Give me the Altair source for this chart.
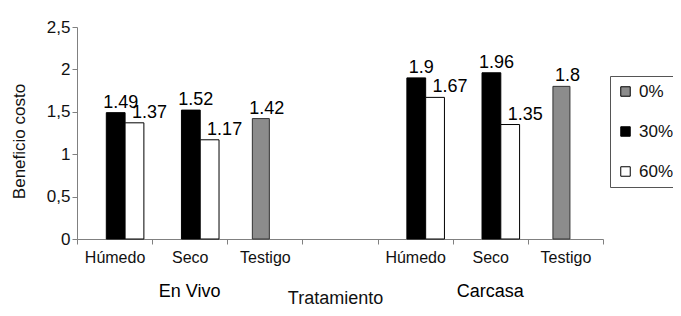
import altair as alt
import pandas as pd

grupos = ["En Vivo", "Carcasa"]
tratamientos = ["Húmedo", "Seco", "Testigo"]
series = ["0%", "30%", "60%"]
colores = ["#8c8c8c", "#000000", "#ffffff"]
v0 = [None, None, 1.42, None, None, 1.8]
v30 = [1.49, 1.52, None, 1.9, 1.96, None]
v60 = [1.37, 1.17, None, 1.67, 1.35, None]
y_ticks = [0, 0.5, 1, 1.5, 2, 2.5]

slots = [f"{g}|{t}" for g in grupos for t in tratamientos]
x_domain = slots[:3] + ["|"] + slots[3:]

rows = []
for i, slot in enumerate(slots):
    for s, vals in zip(series, [v0, v30, v60]):
        if vals[i] is not None:
            rows.append({"slot": slot, "serie": s, "valor": vals[i],
                         "txt": str(vals[i])})
df = pd.DataFrame(rows)
df_grp = pd.DataFrame({"slot": [f"{g}|Seco" for g in grupos], "grupo": grupos})

FONT = "Liberation Sans"

x_enc = alt.X(
    "slot:N",
    scale=alt.Scale(domain=x_domain, paddingInner=0, paddingOuter=0),
    axis=alt.Axis(
        title="Tratamiento",
        labelExpr="split(datum.value, '|')[1]",
        tickBand="extent",
        labelAngle=0,
        labelFontSize=16,
        labelPadding=5,
        tickSize=5,
        titleFontSize=18,
        titleBaseline="alphabetic",
        titleY=64,
        titleX=258,
        titleFontWeight="normal",
    ),
)
y_enc = alt.Y(
    "valor:Q",
    scale=alt.Scale(domain=[0, 2.5], nice=False),
    axis=alt.Axis(
        title="Beneficio costo",
        values=y_ticks,
        labelExpr="replace(toString(datum.value), '.', ',')",
        grid=False,
        tickSize=5,
        labelPadding=2,
        labelFontSize=17,
        titleFontSize=17,
        titleFontWeight="normal",
        titlePadding=18,
        titleY=114,
    ),
)
xoff = alt.XOffset(
    "serie:N",
    scale=alt.Scale(domain=["30%", "60%"], paddingInner=0, paddingOuter=1, align=0.78),
)
color = alt.Color(
    "serie:N",
    scale=alt.Scale(domain=series, range=colores),
    legend=alt.Legend(
        title=None, orient="none", legendX=533, legendY=49,
        symbolType="square", symbolSize=90, symbolStrokeColor="black",
        symbolStrokeWidth=1, labelFontSize=17, rowPadding=22, padding=7,
        strokeColor="#555555", fillColor="white", labelOffset=5,
    ),
)

base = alt.Chart(df)
bars_pair = base.transform_filter(alt.FieldOneOfPredicate(field="serie", oneOf=["30%", "60%"])).mark_bar(
    stroke="black", strokeWidth=1
).encode(x=x_enc, y=y_enc, xOffset=xoff, color=color)
bars_gray = base.transform_filter(alt.datum.serie == "0%").mark_bar(
    stroke="#333333", strokeWidth=1, width=17, xOffset=-4
).encode(x=x_enc, y=y_enc, color=color)

txt_kw = dict(fontSize=18, baseline="alphabetic", dy=-5, color="black")
t30 = base.transform_filter(alt.datum.serie == "30%").mark_text(dx=5, **txt_kw).encode(
    x=x_enc, y=y_enc, xOffset=xoff, text="txt:N")
t60 = base.transform_filter(alt.datum.serie == "60%").mark_text(dx=15, **txt_kw).encode(
    x=x_enc, y=y_enc, xOffset=xoff, text="txt:N")
t0 = base.transform_filter(alt.datum.serie == "0%").mark_text(dx=2, **txt_kw).encode(
    x=x_enc, y=y_enc, text="txt:N")

grp = alt.Chart(df_grp).mark_text(fontSize=18, baseline="alphabetic", color="black").encode(
    x=x_enc, y=alt.value(270), text="grupo:N")

chart = alt.layer(bars_pair, bars_gray, t30, t60, t0, grp).properties(
    width=526, height=212,
    autosize=alt.AutoSizeParams(type="none"),
    padding={"left": 69, "top": 19, "right": 70, "bottom": 69},
    background="white",
).configure_view(stroke=None).configure_axis(
    domainColor="#808080", tickColor="#808080", labelColor="#111111",
    titleColor="#111111", labelFont=FONT, titleFont=FONT,
).configure_legend(labelFont=FONT, labelColor="#111111").configure_text(font=FONT)

chart.save("out.html", embed_options={"renderer": "svg", "actions": False})
